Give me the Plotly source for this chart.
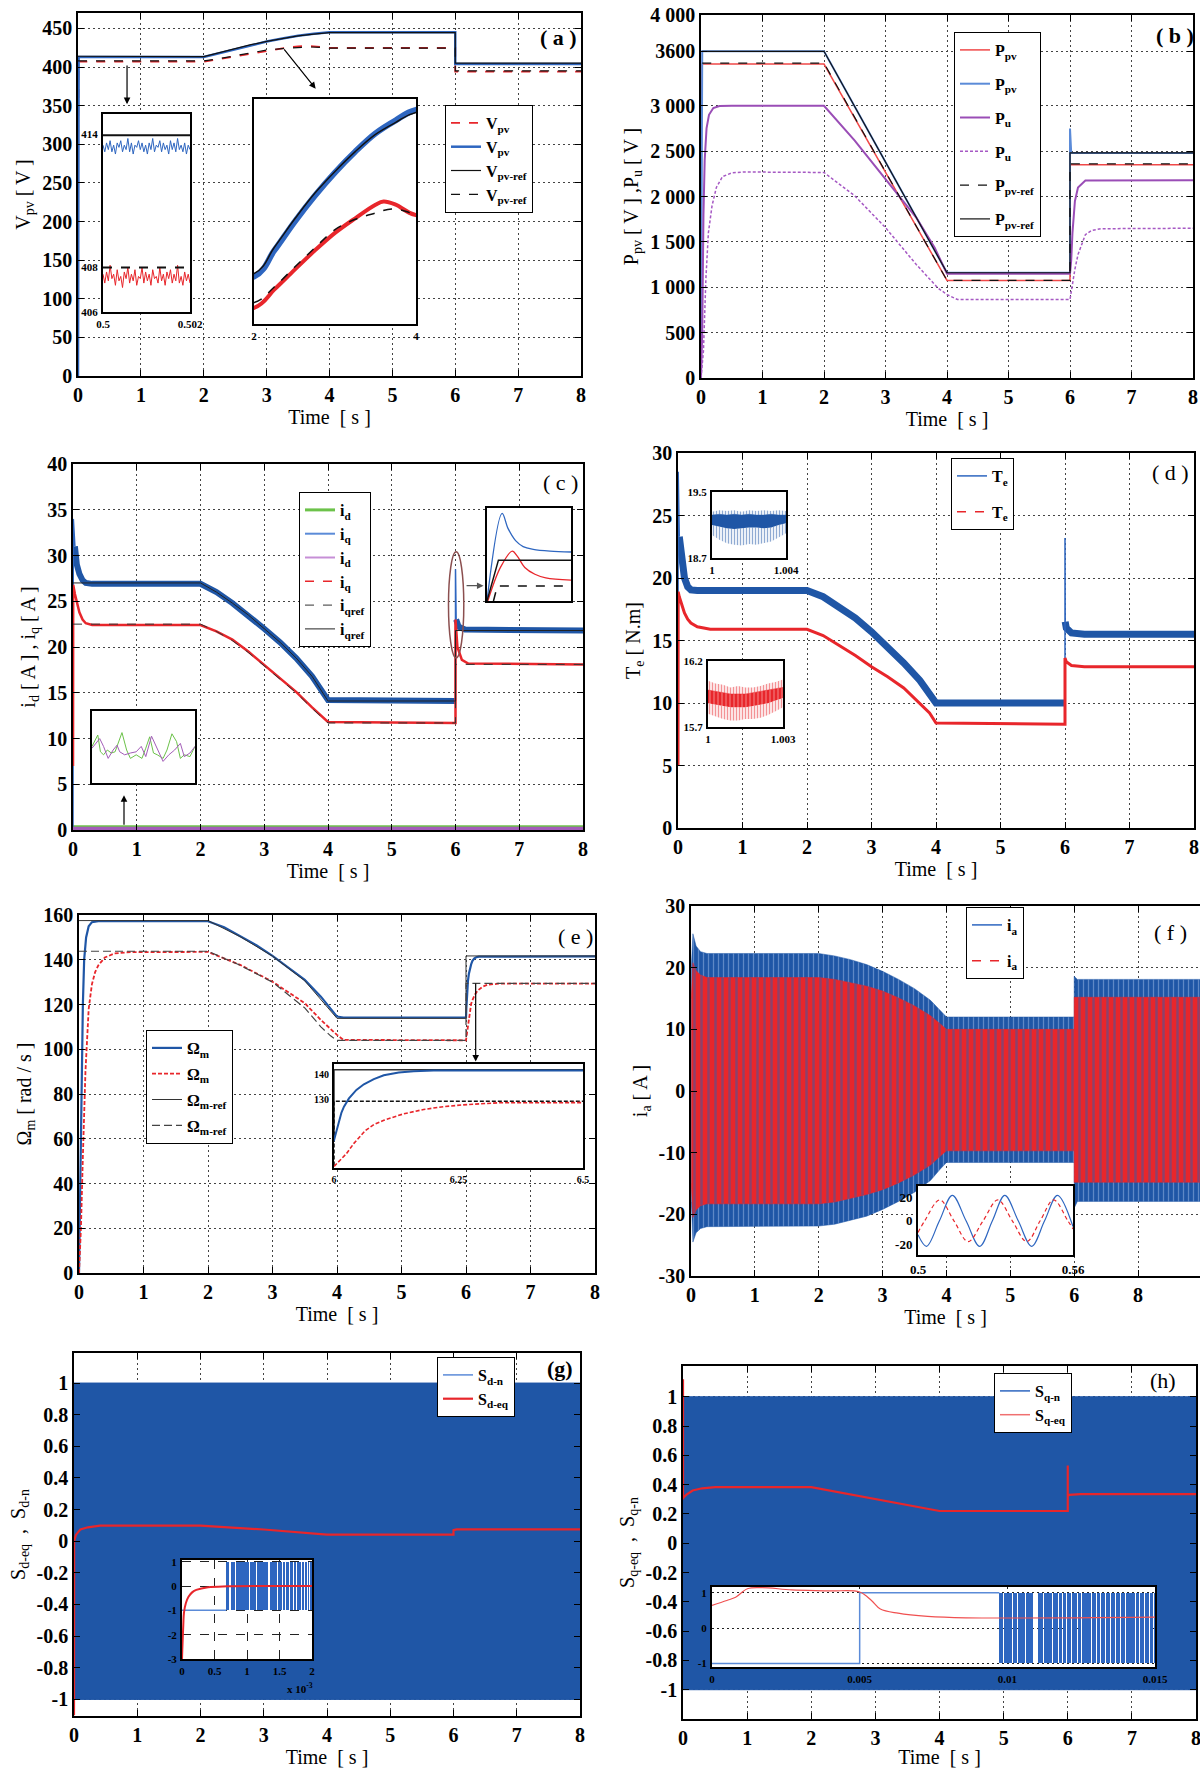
import plotly.graph_objects as go

W, H = 1200, 1768
SERIF = "Liberation Serif"
BLUE = "#1f56a6"
BLUE2 = "#2e66c0"
LBLUE = "#5b8bd8"
RED = "#e8262b"
PURPLE = "#9a4db6"
GREEN = "#6cc24a"
BLACK = "#111111"

# ======================= DATA =======================
# (a) PV voltage
A_T_BLUE = [0, 0.01, 2.0, 2.25, 2.5, 2.75, 3.0, 3.25, 3.5, 3.75, 4.0, 6.0, 6.0, 8.0]
A_VPV_BLUE = [0, 413, 413, 418, 423.5, 428.5, 433, 437, 440.5, 443, 445, 445, 404, 404]
A_VREF_SOLID = [414, 414, 413.6, 418.6, 424, 429, 433.2, 437, 440.3, 442.6, 444.5, 444.5, 405, 405]
A_T_RED = [0, 0.01, 2.0, 2.25, 2.5, 2.75, 3.0, 3.25, 3.5, 3.6, 3.75, 4.0, 6.0, 6.0, 8.0]
A_VPV_RED = [290, 407, 407, 410.5, 414.3, 418, 421.4, 424.2, 426.8, 427.4, 426.8, 424.8, 424.8, 394, 394]
A_T_REFD = [0, 2.0, 2.25, 2.5, 2.75, 3.0, 3.25, 3.5, 3.7, 3.9, 4.0, 6.0, 6.0, 8.0]
A_VREF_DASH = [408, 408, 411, 414.8, 418.5, 422, 424, 425.2, 426, 425.4, 424.5, 424.5, 395, 395]
A1_T = [0.5, 0.502]
A1_REF_HI = [413.95, 413.95]
A1_REF_LO = [408.0, 408.0]
A1_BLUE = [413.5, 413.2, 413.6, 413.3, 413.7, 413.2, 413.5, 413.1, 413.6, 413.4, 413.7, 413.2, 413.5,
           413.3, 413.8, 413.2, 413.6, 413.1, 413.5, 413.4, 413.7, 413.3, 413.6, 413.2, 413.5, 413.1,
           413.6, 413.3, 413.8, 413.2, 413.5, 413.4, 413.7, 413.2, 413.6, 413.3, 413.5, 413.1, 413.7,
           413.3, 413.6, 413.2, 413.8, 413.3, 413.5, 413.2, 413.6, 413.1, 413.5, 413.3]
A1_RED = [407.7, 407.3, 407.8, 407.4, 408.1, 407.5, 407.7, 407.2, 407.9, 407.4, 407.6, 407.1, 407.8,
          407.5, 408.0, 407.3, 407.7, 407.4, 407.9, 407.2, 407.6, 407.5, 408.0, 407.3, 407.8, 407.4,
          407.7, 407.2, 407.9, 407.5, 407.6, 407.3, 408.0, 407.4, 407.7, 407.2, 407.8, 407.5, 407.9,
          407.3, 407.7, 407.4, 408.1, 407.3, 407.6, 407.2, 407.8, 407.4, 407.7, 407.3]

# (b) powers
B_T_BLUE = [0, 0.01, 0.02, 2.0, 4.0, 6.0, 6.0, 6.02, 8.0]
B_PPV_BLUE = [0, 2700, 3600, 3600, 1160, 1160, 2750, 2480, 2480]
B_T_REF = [0.02, 2.0, 4.0, 6.0, 6.0, 8.0]
B_PREF_SOLID = [3600, 3600, 1160, 1160, 2480, 2480]
B_PREF_DASH = [3470, 3470, 1075, 1075, 2360, 2360]
B_T_RED = [0, 0.01, 0.02, 2.0, 4.0, 6.0, 6.0, 8.0]
B_PPV_RED = [2750, 3100, 3460, 3460, 1075, 1075, 2350, 2350]
B_T_PU = [0, 0.02, 0.04, 0.06, 0.09, 0.13, 0.2, 0.3, 0.5, 2.0, 2.5, 3.0, 3.5, 3.8, 4.0, 6.0,
          6.02, 6.04, 6.08, 6.13, 6.25, 8.0]
B_PU_SOLID = [0, 500, 1800, 2400, 2750, 2900, 2975, 2998, 3000, 3000, 2616, 2192, 1768, 1435, 1148, 1148,
              1300, 1600, 1950, 2100, 2175, 2180]
B_T_PU2 = [0, 0.04, 0.08, 0.12, 0.18, 0.25, 0.35, 0.5, 0.7, 2.0, 2.5, 3.0, 3.5, 3.85, 4.0, 4.17, 6.0,
           6.03, 6.08, 6.13, 6.2, 6.25, 6.35, 6.5, 8.0]
B_PU_DASH = [0, 300, 1100, 1600, 1900, 2100, 2220, 2260, 2270, 2265, 2007, 1657, 1251, 993, 919, 865, 865,
             1000, 1200, 1360, 1500, 1580, 1625, 1645, 1650]

# (c) currents  (thick band + thin start-up / step spikes)
C_T_BLUE = [0.03, 0.06, 0.1, 0.15, 0.2, 0.3, 2.0, 2.25, 2.5, 2.75, 3.0, 3.25, 3.5, 3.75, 4.0, 6.0,
            None, 6.01, 6.05, 6.15, 8.0]
C_IQ_BLUE = [31, 29, 28, 27.3, 27.0, 26.9, 26.9, 26.0, 24.8, 23.5, 22.0, 20.5, 18.8, 16.8, 14.2, 14.1,
             None, 23, 22.2, 21.9, 21.8]
C_T_BLUE_SPIKE = [0, 0.005, 0.03, None, 6.0, 6.0, 6.01]
C_IQ_BLUE_SPIKE = [0, 34, 31, None, 14.1, 28.5, 23]
C_T_RED = [0, 0.003, 0.03, 0.06, 0.1, 0.15, 0.2, 0.3, 2.0, 2.25, 2.5, 2.75, 3.0, 3.25, 3.5, 3.75, 4.0,
           6.0, 6.0, 6.03, 6.1, 6.2, 8.0]
C_IQ_RED = [7, 26.8, 25.8, 24.8, 23.8, 23.0, 22.6, 22.4, 22.4, 21.7, 20.8, 19.5, 18.0, 16.6, 15.1, 13.4,
            11.8, 11.7, 23.0, 20.0, 18.6, 18.2, 18.1]
C_T_REF = [0, 2.0, 2.25, 2.5, 2.75, 3.0, 3.25, 3.5, 3.75, 4.0, 6.0, 6.0, 8.0]
C_IQREF_SOLID = [27.0, 27.0, 26.0, 24.8, 23.5, 22.0, 20.5, 18.8, 16.8, 14.1, 14.1, 21.8, 21.8]
C_IQREF_DASH = [22.5, 22.5, 21.7, 20.7, 19.4, 17.9, 16.5, 15.0, 13.3, 11.7, 11.7, 18.1, 18.1]
C_T_ID = [0, 8]
C_ID_GREEN = [0.35, 0.35]
C_ID_PURPLE = [0.13, 0.13]
# inset c1 (zoom of the 6 s step)
C1_T_BLUE = [6.0, 6.018, 6.025, 6.034, 6.043, 6.055, 6.075, 6.1]
C1_BLUE = [16.0, 35.3, 32.0, 29.3, 28.0, 27.4, 27.0, 26.8]
C1_T_RED = [6.001, 6.016, 6.030, 6.036, 6.045, 6.057, 6.070, 6.1]
C1_RED = [16.0, 23.4, 27.0, 25.9, 23.4, 21.9, 21.1, 20.6]
C1_T_REFS = [6.0, 6.0136, 6.1]
C1_REF_SOLID = [16.0, 25.0, 25.0]
C1_T_REFD = [6.0077, 6.0123, 6.1]
C1_REF_DASH = [16.0, 19.3, 19.3]
# inset c2 (i_d ripple)
C2_T_G = [0.750, 0.7556, 0.7582, 0.7612, 0.7649, 0.7687, 0.7724, 0.7791, 0.7836, 0.7873, 0.7929, 0.7985,
          0.8022, 0.8060, 0.8097, 0.8134, 0.8190, 0.8228, 0.8276, 0.8321, 0.8358, 0.8396, 0.8451, 0.8500]
C2_ID_G = [0.21, 0.40, 0.12, 0.07, 0.15, 0.10, 0.12, 0.44, 0.15, 0.01, 0.07, 0.01, 0.18, 0.37, 0.10,
           0.07, 0.01, 0.15, 0.42, 0.29, 0.01, 0.07, 0.04, 0.21]
C2_T_P = [0.750, 0.7537, 0.7575, 0.7612, 0.7657, 0.7705, 0.7743, 0.7769, 0.7817, 0.7873, 0.7929, 0.7978,
          0.8022, 0.8078, 0.8134, 0.8190, 0.8246, 0.8302, 0.8358, 0.8396, 0.8451, 0.8500]
C2_ID_P = [0.18, 0.26, 0.34, 0.21, 0.01, 0.15, 0.23, 0.12, 0.07, 0.10, 0.12, 0.21, 0.04, 0.38, 0.18,
           -0.04, 0.07, 0.15, 0.26, 0.04, 0.10, 0.21]

# (d) torque (thick band + thin spikes)
D_T_BLUE = [0.02, 0.05, 0.1, 0.15, 0.2, 0.3, 2.0, 2.25, 2.5, 2.75, 3.0, 3.25, 3.5, 3.75, 4.0, 6.0,
            None, 6.003, 6.02, 6.1, 6.3, 8.0]
D_TE_BLUE = [23.3, 21.8, 20.0, 19.3, 19.05, 19.0, 19.0, 18.5, 17.7, 16.8, 15.7, 14.5, 13.2, 11.8, 10.0,
             10.0, None, 16.5, 16.0, 15.6, 15.5, 15.5]
D_T_BLUE_SPIKE = [0, 0.003, 0.02, None, 6.0, 6.0, 6.003]
D_TE_BLUE_SPIKE = [10, 28.5, 23.3, None, 10.0, 23.2, 16.5]
D_T_RED = [0, 0.003, 0.02, 0.06, 0.1, 0.15, 0.2, 0.3, 0.5, 2.0, 2.25, 2.5, 2.75, 3.0, 3.25, 3.5, 3.75,
           3.9, 4.0, 6.0, 6.0, 6.02, 6.1, 6.3, 8.0]
D_TE_RED = [5, 18.9, 18.5, 17.8, 17.2, 16.7, 16.4, 16.1, 15.9, 15.9, 15.4, 14.6, 13.8, 12.9, 12.1, 11.2,
            10.0, 9.2, 8.4, 8.3, 13.6, 13.3, 13.0, 12.9, 12.9]
D1_T = [1.0, 1.0004, 1.0008, 1.0012, 1.0016, 1.0020, 1.0024, 1.0028, 1.0032, 1.0036, 1.0040]
D1_SPIKE_HI = [19.26, 19.28, 19.27, 19.28, 19.26, 19.28, 19.27, 19.28, 19.27, 19.28, 19.27]
D1_CORE_HI = [19.22, 19.23, 19.22, 19.23, 19.22, 19.23, 19.22, 19.22, 19.23, 19.22, 19.22]
D1_CORE_LO = [19.10, 19.08, 19.06, 19.05, 19.06, 19.07, 19.07, 19.06, 19.07, 19.10, 19.12]
D1_SPIKE_LO = [18.98, 18.92, 18.88, 18.86, 18.85, 18.87, 18.86, 18.88, 18.90, 18.95, 19.00]
D2_T = [1.0, 1.0003, 1.0006, 1.0009, 1.0012, 1.0015, 1.0018, 1.0021, 1.0024, 1.0027, 1.0030]
D2_SPIKE_HI = [16.05, 16.03, 16.02, 16.00, 16.01, 16.00, 16.00, 16.01, 16.03, 16.04, 16.06]
D2_CORE_HI = [15.98, 15.97, 15.96, 15.95, 15.95, 15.95, 15.96, 15.97, 15.98, 15.99, 16.00]
D2_CORE_LO = [15.88, 15.87, 15.86, 15.85, 15.85, 15.85, 15.86, 15.87, 15.88, 15.90, 15.92]
D2_SPIKE_LO = [15.80, 15.78, 15.76, 15.75, 15.75, 15.76, 15.76, 15.77, 15.79, 15.82, 15.85]

# (e) speed
E_T_BLUE = [0, 0.02, 0.04, 0.06, 0.08, 0.11, 0.15, 0.2, 0.3, 2.0, 2.25, 2.5, 2.75, 3.0, 3.25, 3.5,
            3.75, 4.0, 4.1, 6.0, 6.005, 6.01, 6.015, 6.02, 6.03, 6.045, 6.06, 6.08, 6.1, 6.13, 6.16,
            6.2, 8.0]
E_W_BLUE = [0, 40, 85, 120, 140, 150, 155, 156.8, 157.2, 157.2, 154.5, 150.5, 146.5, 141.7, 136.5, 131,
            123.5, 114.6, 114.2, 114.2, 118, 121.5, 125, 127.3, 130.5, 133.8, 136, 138, 139.5, 140.6,
            141.1, 141.4, 141.5]
E_T_REFS = [0, 2.0, 2.5, 3.0, 3.5, 3.75, 4.0, 6.0, 6.0, 8.0]
E_WREF_SOLID = [157.5, 157.5, 150.3, 141.6, 130.6, 122.3, 113.8, 113.8, 141.7, 141.7]
E_T_RED = [0, 0.03, 0.06, 0.1, 0.15, 0.2, 0.25, 0.3, 0.4, 0.55, 0.8, 2.0, 2.5, 3.0, 3.5, 3.75, 4.0,
           4.1, 6.0, 6.01, 6.025, 6.04, 6.063, 6.08, 6.1, 6.14, 6.18, 6.22, 6.26, 6.33, 6.4, 6.5, 8.0]
E_W_RED = [0, 20, 52, 90, 118, 129, 134.5, 137.5, 141, 142.8, 143.4, 143.5, 137.7, 130.2, 120.6, 113.1,
           106.4, 104.2, 104, 106, 109, 113, 118, 120.3, 122, 124.5, 126.2, 127.3, 128.0, 128.8, 129.1,
           129.3, 129.3]
E_T_REFD = [0, 2.0, 2.5, 3.0, 3.5, 3.75, 3.9, 4.0, 6.0, 6.0, 8.0]
E_WREF_DASH = [143.8, 143.8, 137.5, 130, 118.5, 110, 106, 104, 104, 129.4, 129.4]

# (f) phase current: envelopes of the fast oscillation
F_T = [0.005, 0.03, 0.08, 0.15, 0.25, 2.0, 2.25, 2.5, 2.75, 3.0, 3.25, 3.5, 3.75, 3.9, 4.0, 6.0, 6.0,
       6.05, 8.0]
F_BLUE_UP = [20, 25.5, 23.5, 22.6, 22.3, 22.3, 21.9, 21.3, 20.5, 19.4, 18.1, 16.6, 14.7, 13.0, 12.0,
             12.0, 18.6, 18.1, 18.1]
F_BLUE_LO = [-18, -24.5, -23, -22.3, -22.0, -21.9, -21.6, -21.0, -20.3, -19.2, -17.9, -16.4, -14.5,
             -12.7, -11.6, -11.6, -19.0, -17.9, -17.9]
F_RED_UP = [15, 20.8, 19.5, 18.8, 18.4, 18.4, 18.1, 17.6, 17.0, 16.2, 15.1, 13.8, 12.2, 10.9, 10.0,
            10.0, 15.2, 15.2, 15.2]
F_RED_LO = [-15, -20.5, -19.3, -18.6, -18.3, -18.3, -18.0, -17.4, -16.8, -16.0, -14.9, -13.6, -12.0,
            -10.6, -9.7, -9.7, -14.8, -14.8, -14.8]
F1_T_BLUE = [0.5, 0.5033, 0.5083, 0.5133, 0.5186, 0.5239, 0.5288, 0.5336, 0.5388, 0.5440, 0.5490,
             0.5540, 0.56]
F1_BLUE = [-12, -22, 0, 22, 0, -22, 0, 22, 0, -22, 0, 22, -5]
F1_T_RED = [0.5, 0.5026, 0.5084, 0.5139, 0.5194, 0.5252, 0.5309, 0.5365, 0.5421, 0.5473, 0.5525,
            0.5580, 0.56]
F1_RED = [-10, 0, 18, 0, -18, 0, 18, 0, -18, 0, 18, 0, -7]

# (g) S_d
G_T_SW = [0, 8]
G_SW_UP = [1, 1]
G_SW_LO = [-1, -1]
G_T_EQ = [0, 0.002, 0.03, 0.1, 0.22, 0.41, 2.0, 3.0, 4.0, 6.0, 6.0, 6.05, 8.0]
G_S_EQ = [-1.1, 0.0, 0.04, 0.074, 0.088, 0.099, 0.099, 0.074, 0.042, 0.042, 0.07, 0.075, 0.075]
G1_T_EQ = [0, 0.005, 0.02, 0.03, 0.06, 0.1, 0.16, 0.22, 0.4, 0.7, 2.0]
G1_S_EQ = [-3.0, -2.6, -1.6, -1.1, -0.7, -0.44, -0.25, -0.16, -0.05, -0.01, 0.0]
G1_T_LOW = [0, 0.68]
G1_S_LOW = [-1, -1]
G1_BLK_START = [0.68, 0.75, 0.83, 1.05, 1.16, 1.35, 1.48, 1.56, 1.60, 1.66, 1.73, 1.77, 1.85, 1.90,
                1.94, 1.97]
G1_BLK_END = [0.73, 0.81, 1.03, 1.14, 1.33, 1.46, 1.54, 1.58, 1.64, 1.71, 1.75, 1.83, 1.88, 1.92,
              1.95, 2.00]

# (h) S_q
H_T_EQ = [0, 0.0, 0.003, 0.05, 0.15, 0.3, 0.5, 2.0, 3.0, 4.0, 6.0, 6.0, 6.0, 6.02, 6.2, 8.0]
H_S_EQ = [1.12, 0.3, 0.31, 0.33, 0.36, 0.375, 0.383, 0.383, 0.30, 0.22, 0.22, 0.53, 0.32, 0.33, 0.335,
          0.335]
H1_T_EQ = [0, 0.0005, 0.0008, 0.0012, 0.0017, 0.0027, 0.004, 0.005, 0.0054, 0.0057, 0.0063, 0.0073,
           0.0086, 0.015]
H1_S_EQ = [0.64, 0.78, 0.87, 1.11, 1.14, 1.08, 1.05, 1.02, 0.78, 0.54, 0.42, 0.33, 0.29, 0.31]
H1_T_SW = [0, 0.005, 0.005, 0.00973]
H1_S_SW = [-1, -1, 1, 1]
H1_BLK_START = [0.00973, 0.00989, 0.01018, 0.01037, 0.01063, 0.01104, 0.01124, 0.01139, 0.01154,
                0.01174, 0.01187, 0.01203, 0.01219, 0.01239, 0.01252, 0.01268, 0.01285, 0.01304,
                0.01317, 0.01333, 0.01350, 0.01369, 0.01385, 0.01402, 0.01417, 0.01434, 0.01450,
                0.01467, 0.01484, 0.01497]
H1_BLK_END = [0.00986, 0.01015, 0.01034, 0.01060, 0.01086, 0.01121, 0.01136, 0.01151, 0.01171,
              0.01184, 0.01200, 0.01216, 0.01236, 0.01249, 0.01265, 0.01282, 0.01301, 0.01314,
              0.01330, 0.01347, 0.01366, 0.01382, 0.01399, 0.01414, 0.01431, 0.01447, 0.01464,
              0.01481, 0.01494, 0.01500]

# ======================= FIGURE =======================
fig = go.Figure()
LAYOUT = {}
TICKFONT = dict(family=SERIF, size=20, color="black", weight="bold")
TITLEFONT = dict(family=SERIF, size=20, color="black")


def sid(n):
    return "" if n == 1 else str(n)


def add_line(n, x, y, color, width=1.5, dash="solid", shape="linear", name=None, legend=None,
             fill=None, fillcolor=None, fillpattern=None):
    kw = dict(x=x, y=y, mode="lines", line=dict(color=color, width=width, dash=dash, shape=shape),
              xaxis="x" + sid(n), yaxis="y" + sid(n), hoverinfo="skip",
              showlegend=name is not None, connectgaps=False)
    if fill:
        kw["fill"] = fill
    if fillcolor:
        kw["fillcolor"] = fillcolor
    if fillpattern:
        kw["fillpattern"] = fillpattern
    if name is not None:
        kw["name"] = name
        kw["legend"] = legend
        kw["legendgroup"] = "%s-%d" % (legend, len(fig.data))
    fig.add_trace(go.Scatter(**kw))


def legend_only(n, name, legend, color, width=1.5, dash="solid"):
    fig.add_trace(go.Scatter(x=[None], y=[None], mode="lines", name=name, legend=legend,
                             legendgroup="%s-%d" % (legend, len(fig.data)),
                             line=dict(color=color, width=width, dash=dash),
                             xaxis="x" + sid(n), yaxis="y" + sid(n), hoverinfo="skip"))


def fmt(v):
    return "%g" % v


def main_axes(n, box, xr, yr, yvals, ytitle, ytext=None, xvals=None, xtext=None, ymirror="ticks",
              xstandoff=3):
    l, r, t, b = box
    if xvals is None:
        xvals = list(range(9))
    if xtext is None:
        xtext = [fmt(v) for v in xvals]
    if ytext is None:
        ytext = [fmt(v) for v in yvals]
    common = dict(showline=True, linecolor="black", linewidth=1.5, ticks="inside", ticklen=6,
                  tickcolor="black", tickwidth=1, showgrid=True, gridcolor="#444",
                  griddash="2px,3px", gridwidth=1, zeroline=False, tickfont=TICKFONT,
                  tickmode="array", automargin=False, fixedrange=True, ticklabeloverflow="allow")
    LAYOUT["xaxis" + sid(n)] = dict(common, domain=[l / W, r / W], range=xr, anchor="y" + sid(n),
                                     mirror="ticks", tickvals=xvals, ticktext=xtext,
                                     title=dict(text="Time  [ s ]", font=TITLEFONT, standoff=xstandoff))
    LAYOUT["yaxis" + sid(n)] = dict(common, domain=[1 - b / H, 1 - t / H], range=yr,
                                     anchor="x" + sid(n), mirror=ymirror, tickvals=yvals,
                                     ticktext=ytext,
                                     title=dict(text=ytitle, font=TITLEFONT, standoff=6))


def inset_axes(n, box, xr, yr, xvals=(), yvals=(), xtext=None, ytext=None, grid=False, fs=11,
               griddash="dash"):
    l, r, t, b = box
    common = dict(showline=True, linecolor="black", linewidth=2, mirror=True, ticks="",
                  zeroline=False, showgrid=grid, gridcolor="#222", griddash=griddash, gridwidth=1,
                  tickfont=dict(family=SERIF, size=fs, color="black", weight="bold"),
                  tickmode="array", automargin=False, fixedrange=True, ticklabelstandoff=1,
                  ticklabeloverflow="allow")
    LAYOUT["xaxis" + sid(n)] = dict(common, domain=[l / W, r / W], range=xr, anchor="y" + sid(n),
                                     tickvals=list(xvals),
                                     ticktext=xtext if xtext is not None else [fmt(v) for v in xvals])
    LAYOUT["yaxis" + sid(n)] = dict(common, domain=[1 - b / H, 1 - t / H], range=yr,
                                     anchor="x" + sid(n), tickvals=list(yvals),
                                     ticktext=ytext if ytext is not None else [fmt(v) for v in yvals])


def legend_box(px_l, py_t, gap):
    return dict(x=px_l / W, y=1 - py_t / H, xanchor="left", yanchor="top", bgcolor="white",
                bordercolor="black", borderwidth=1, tracegroupgap=gap, traceorder="grouped",
                font=dict(family=SERIF, size=16, color="black", weight="bold"), itemwidth=30)


# ---------- main axes ----------
main_axes(1, (78, 581, 13, 376), [0, 8], [0, 470], list(range(0, 451, 50)), "V<sub>pv</sub> [ V ]")
main_axes(2, (701, 1193, 15, 378), [0, 8], [0, 4000], [0, 500, 1000, 1500, 2000, 2500, 3000, 3600, 4000],
          "P<sub>pv</sub> [ V ] ,P<sub>u</sub> [ V ]",
          ytext=["0", "500", "1 000", "1 500", "2 000", "2 500", "3 000", "3600", "4 000"])
main_axes(3, (73, 583, 464, 830), [0, 8], [0, 40], list(range(0, 41, 5)),
          "i<sub>d</sub> [ A ] , i<sub>q</sub> [ A ]")
main_axes(4, (678, 1194, 453, 828), [0, 8], [0, 30], list(range(0, 31, 5)), "T<sub>e</sub> [ N.m]")
main_axes(5, (79, 595, 915, 1273), [0, 8], [0, 160], list(range(0, 161, 20)),
          "Ω<sub>m</sub> [ rad / s ]")
main_axes(6, (691, 1200, 906, 1276), [0, 7.97], [-30, 30], list(range(-30, 31, 10)),
          "i<sub>a</sub> [ A ]", xvals=list(range(8)),
          xtext=["0", "1", "2", "3", "4", "5", "6", "8"], ymirror=False)
S_TICKS = [-1, -0.8, -0.6, -0.4, -0.2, 0, 0.2, 0.4, 0.6, 0.8, 1]
main_axes(7, (74, 580, 1353, 1716), [0, 8], [-1.105, 1.19], S_TICKS,
          "S<sub>d-eq</sub>  ,  S<sub>d-n</sub>")
main_axes(8, (683, 1196, 1366, 1719), [0, 8], [-1.2, 1.21], S_TICKS,
          "S<sub>q-eq</sub>  ,  S<sub>q-n</sub>", xstandoff=0)

# ---------- inset axes ----------
inset_axes(9, (103, 190, 114, 312), [0.5, 0.502], [406, 414.9], xvals=[0.5, 0.502],
           yvals=[406, 408, 414])
inset_axes(10, (254, 416, 99, 324), [2, 4], [403.9, 447.1], xvals=[2, 4])
inset_axes(11, (487, 571, 508, 601), [6.0, 6.1], [16, 36.5])
inset_axes(12, (92, 195, 711, 783), [0.75, 0.85], [-0.4, 0.8])
inset_axes(13, (712, 786, 492, 558), [1.0, 1.004], [18.7, 19.5], xvals=[1.0, 1.004], yvals=[18.7, 19.5],
           xtext=["1", "1.004"])
inset_axes(14, (708, 783, 661, 727), [1.0, 1.003], [15.7, 16.2], xvals=[1.0, 1.003], yvals=[15.7, 16.2],
           xtext=["1", "1.003"])
inset_axes(15, (334, 583, 1064, 1168), [6.0, 6.5], [103.4, 143.9], xvals=[6, 6.25, 6.5],
           yvals=[130, 140], fs=10)
inset_axes(16, (918, 1073, 1186, 1255), [0.5, 0.56], [-29.5, 30], xvals=[0.5, 0.56],
           yvals=[-20, 0, 20], fs=13)
inset_axes(17, (182, 312, 1560, 1659), [0, 2], [-3.0, 1.07], xvals=[0, 0.5, 1, 1.5, 2],
           yvals=[-3, -2, -1, 0, 1], grid=True, fs=11)
inset_axes(18, (712, 1155, 1587, 1667), [0, 0.015], [-1.1, 1.16], xvals=[0, 0.005, 0.01, 0.015],
           yvals=[-1, 0, 1], grid=True, fs=11, griddash="2px,3px")

# ---------- (a) ----------
add_line(1, A_T_RED, A_VPV_RED, RED, 1.8, "dash", name="V<sub>pv</sub>", legend="legend")
add_line(1, A_T_BLUE, A_VPV_BLUE, BLUE2, 2.5, name="V<sub>pv</sub>", legend="legend")
add_line(1, A_T_BLUE, A_VREF_SOLID, BLACK, 1.2, name="V<sub>pv-ref</sub>", legend="legend")
add_line(1, A_T_REFD, A_VREF_DASH, BLACK, 1.2, "dash", name="V<sub>pv-ref</sub>", legend="legend")
a1_t_b = [A1_T[0] + i * (A1_T[1] - A1_T[0]) / (len(A1_BLUE) - 1) for i in range(len(A1_BLUE))]
a1_t_r = [A1_T[0] + i * (A1_T[1] - A1_T[0]) / (len(A1_RED) - 1) for i in range(len(A1_RED))]
add_line(9, a1_t_b, A1_BLUE, BLUE2, 1.0)
add_line(9, A1_T, A1_REF_HI, BLACK, 2.0)
add_line(9, a1_t_r, A1_RED, RED, 1.0)
add_line(9, A1_T, A1_REF_LO, BLACK, 1.8, "dash")
add_line(10, A_T_BLUE, A_VPV_BLUE, BLUE2, 6, shape="spline")
add_line(10, A_T_BLUE, A_VREF_SOLID, BLACK, 1.5, shape="spline")
add_line(10, A_T_RED, A_VPV_RED, RED, 4, shape="spline")
add_line(10, A_T_REFD, A_VREF_DASH, BLACK, 1.5, "dash", shape="spline")

# ---------- (b) ----------
add_line(2, B_T_RED, B_PPV_RED, "#f04848", 1.5, name="P<sub>pv</sub>", legend="legend2")
add_line(2, B_T_BLUE, B_PPV_BLUE, LBLUE, 2.0, name="P<sub>pv</sub>", legend="legend2")
add_line(2, B_T_PU, B_PU_SOLID, PURPLE, 2.0, name="P<sub>u</sub>", legend="legend2")
add_line(2, B_T_PU2, B_PU_DASH, "#a659c4", 1.5, "3px,2px", name="P<sub>u</sub>", legend="legend2")
add_line(2, B_T_REF, B_PREF_DASH, BLACK, 1.2, "dash", name="P<sub>pv-ref</sub>", legend="legend2")
add_line(2, B_T_REF, B_PREF_SOLID, BLACK, 1.2, name="P<sub>pv-ref</sub>", legend="legend2")

# ---------- (c) ----------
add_line(3, C_T_ID, C_ID_GREEN, GREEN, 3, name="i<sub>d</sub>", legend="legend3")
add_line(3, C_T_BLUE, C_IQ_BLUE, BLUE, 6)
add_line(3, C_T_BLUE_SPIKE, C_IQ_BLUE_SPIKE, BLUE2, 1.5)
legend_only(3, "i<sub>q</sub>", "legend3", LBLUE, 2)
add_line(3, C_T_ID, C_ID_PURPLE, "#a35db8", 4)
legend_only(3, "i<sub>d</sub>", "legend3", "#c68fd6", 2)
add_line(3, C_T_RED, C_IQ_RED, RED, 2.5)
legend_only(3, "i<sub>q</sub>", "legend3", RED, 1.5, "dash")
add_line(3, C_T_REF, C_IQREF_DASH, "#333333", 1.0, "dash", name="i<sub>qref</sub>", legend="legend3")
add_line(3, C_T_REF, C_IQREF_SOLID, "#222222", 1.0, name="i<sub>qref</sub>", legend="legend3")
add_line(11, C1_T_BLUE, C1_BLUE, BLUE2, 1.3, shape="spline")
add_line(11, C1_T_RED, C1_RED, RED, 1.3, shape="spline")
add_line(11, C1_T_REFS, C1_REF_SOLID, BLACK, 1.5)
add_line(11, C1_T_REFD, C1_REF_DASH, BLACK, 1.5, "dash")
add_line(12, C2_T_G, C2_ID_G, GREEN, 1.0)
add_line(12, C2_T_P, C2_ID_P, "#a35db8", 1.0)

# ---------- (d) ----------
add_line(4, D_T_BLUE, D_TE_BLUE, BLUE, 7)
add_line(4, D_T_BLUE_SPIKE, D_TE_BLUE_SPIKE, BLUE2, 1.5)
legend_only(4, "T<sub>e</sub>", "legend4", BLUE2, 1.5)
add_line(4, D_T_RED, D_TE_RED, RED, 3)
legend_only(4, "T<sub>e</sub>", "legend4", RED, 1.5, "dash")
pat_b = dict(shape="|", fgcolor=BLUE, bgcolor="rgba(255,255,255,0)", size=3, solidity=0.45)
pat_r = dict(shape="|", fgcolor=RED, bgcolor="rgba(255,255,255,0)", size=3, solidity=0.5)
add_line(13, D1_T, D1_SPIKE_LO, "rgba(0,0,0,0)", 0)
add_line(13, D1_T, D1_CORE_LO, "rgba(0,0,0,0)", 0, fill="tonexty", fillcolor="rgba(0,0,0,0)",
         fillpattern=pat_b)
add_line(13, D1_T, D1_CORE_HI, BLUE, 0.5, fill="tonexty", fillcolor=BLUE)
add_line(13, D1_T, D1_SPIKE_HI, "rgba(0,0,0,0)", 0, fill="tonexty", fillcolor="rgba(0,0,0,0)",
         fillpattern=pat_b)
add_line(14, D2_T, D2_SPIKE_LO, "rgba(0,0,0,0)", 0)
add_line(14, D2_T, D2_CORE_LO, "rgba(0,0,0,0)", 0, fill="tonexty", fillcolor="rgba(0,0,0,0)",
         fillpattern=pat_r)
add_line(14, D2_T, D2_CORE_HI, RED, 0.5, fill="tonexty", fillcolor=RED,
         fillpattern=dict(shape="|", fgcolor="#f9b0b0", bgcolor=RED, size=4, solidity=0.35))
add_line(14, D2_T, D2_SPIKE_HI, "rgba(0,0,0,0)", 0, fill="tonexty", fillcolor="rgba(0,0,0,0)",
         fillpattern=pat_r)

# ---------- (e) ----------
add_line(5, E_T_BLUE, E_W_BLUE, BLUE, 2.2, name="Ω<sub>m</sub>", legend="legend5")
add_line(5, E_T_RED, E_W_RED, RED, 1.8, "4px,2px", name="Ω<sub>m</sub>", legend="legend5")
add_line(5, E_T_REFS, E_WREF_SOLID, "#333333", 1.0, name="Ω<sub>m-ref</sub>", legend="legend5")
add_line(5, E_T_REFD, E_WREF_DASH, "#444444", 1.2, "8px,4px", name="Ω<sub>m-ref</sub>", legend="legend5")
add_line(15, E_T_REFS, E_WREF_SOLID, "#333333", 1.5)
add_line(15, E_T_REFD, E_WREF_DASH, BLACK, 1.5, "4px,2px")
add_line(15, E_T_BLUE, E_W_BLUE, BLUE, 2.0)
add_line(15, E_T_RED, E_W_RED, RED, 1.6, "4px,2px")

# ---------- (f) ----------
add_line(6, F_T, F_BLUE_LO, BLUE, 0.5)
add_line(6, F_T, F_BLUE_UP, BLUE, 0.5, fill="tonexty", fillcolor=BLUE,
         fillpattern=dict(shape="|", bgcolor=BLUE, fgcolor="#9db9e6", size=5, solidity=0.25))
add_line(6, F_T, F_RED_LO, RED, 0.5)
add_line(6, F_T, F_RED_UP, RED, 0.5, fill="tonexty", fillcolor=RED,
         fillpattern=dict(shape="|", bgcolor=RED, fgcolor="#2f5cae", size=7, solidity=0.35))
legend_only(6, "i<sub>a</sub>", "legend6", BLUE2, 1.5)
legend_only(6, "i<sub>a</sub>", "legend6", RED, 1.5, "dash")
add_line(16, F1_T_BLUE, F1_BLUE, BLUE2, 1.2, shape="spline")
add_line(16, F1_T_RED, F1_RED, RED, 1.2, "4px,3px", shape="spline")

# ---------- (g) ----------
add_line(7, G_T_SW, G_SW_LO, BLUE, 1)
add_line(7, G_T_SW, G_SW_UP, BLUE, 1, fill="tonexty", fillcolor=BLUE)
legend_only(7, "S<sub>d-n</sub>", "legend7", LBLUE, 1.5)
add_line(7, G_T_EQ, G_S_EQ, RED, 2.2, name="S<sub>d-eq</sub>", legend="legend7")
fig.add_trace(go.Bar(x=G1_BLK_START, y=[2] * len(G1_BLK_START), base=-1, offset=0,
                     width=[e - s for s, e in zip(G1_BLK_START, G1_BLK_END)],
                     marker=dict(color=BLUE2, line=dict(width=0)), xaxis="x17", yaxis="y17",
                     showlegend=False, hoverinfo="skip"))
add_line(17, G1_T_LOW, G1_S_LOW, LBLUE, 1.5)
add_line(17, G1_T_EQ, G1_S_EQ, RED, 2.0, shape="spline")

# ---------- (h) ----------
add_line(8, G_T_SW, G_SW_LO, BLUE, 1)
add_line(8, G_T_SW, G_SW_UP, BLUE, 1, fill="tonexty", fillcolor=BLUE)
legend_only(8, "S<sub>q-n</sub>", "legend8", BLUE2, 1.5)
add_line(8, H_T_EQ, H_S_EQ, RED, 2.2)
legend_only(8, "S<sub>q-eq</sub>", "legend8", "#f07070", 1.5)
fig.add_trace(go.Bar(x=H1_BLK_START, y=[2] * len(H1_BLK_START), base=-1, offset=0,
                     width=[e - s for s, e in zip(H1_BLK_START, H1_BLK_END)],
                     marker=dict(color=BLUE2, line=dict(width=0)), xaxis="x18", yaxis="y18",
                     showlegend=False, hoverinfo="skip"))
add_line(18, H1_T_SW, H1_S_SW, LBLUE, 1.5)
add_line(18, H1_T_EQ, H1_S_EQ, "#f05050", 1.2, shape="spline")

# ---------- legends ----------
LAYOUT["legend"] = legend_box(445, 105, 0)
LAYOUT["legend2"] = legend_box(954, 32, 10)
LAYOUT["legend3"] = legend_box(299, 492, 0)
LAYOUT["legend4"] = legend_box(951, 458, 12)
LAYOUT["legend5"] = legend_box(146, 1030, 2)
LAYOUT["legend6"] = legend_box(966, 907, 12)
LAYOUT["legend7"] = legend_box(437, 1357, 0)
LAYOUT["legend8"] = legend_box(994, 1373, 0)

# ---------- annotations ----------
ann = []
PANEL_LABELS = [("( a )", 558, 37, True), ("( b )", 1175, 35, True), ("( c )", 560, 483, False),
                ("( d )", 1170, 473, False), ("( e )", 575, 936, False), ("( f )", 1170, 932, False),
                ("(g)", 560, 1368, True), ("(h)", 1163, 1380, False)]
for txt, px, py, bold in PANEL_LABELS:
    ann.append(dict(text=txt, x=px / W, y=1 - py / H, xref="paper", yref="paper", showarrow=False,
                    xanchor="center", yanchor="middle",
                    font=dict(family=SERIF, size=22, color="black", weight="bold" if bold else "normal")))


def arrow(n, x, y, ax, ay, color="black"):
    ann.append(dict(text="", x=x, y=y, ax=ax, ay=ay, xref="x" + sid(n), yref="y" + sid(n),
                    axref="x" + sid(n), ayref="y" + sid(n), showarrow=True, arrowhead=2,
                    arrowsize=1.1, arrowwidth=1.2, arrowcolor=color))


arrow(1, 0.78, 352, 0.78, 404)
arrow(1, 3.78, 372, 3.26, 425)
arrow(3, 0.8, 3.8, 0.8, 0.4)
arrow(3, 6.44, 26.7, 6.15, 26.7, "#555555")
arrow(5, 6.15, 94.5, 6.15, 130)
ann.append(dict(text="x 10<sup>-3</sup>", x=300 / W, y=1 - 1688 / H, xref="paper", yref="paper",
                showarrow=False, xanchor="center", yanchor="middle",
                font=dict(family=SERIF, size=11, color="black", weight="bold")))
LAYOUT["annotations"] = ann
LAYOUT["shapes"] = [dict(type="circle", xref="x3", yref="y3", x0=5.89, x1=6.13, y0=18.8, y1=30.4,
                         line=dict(color="#8b4f4f", width=1.5))]

fig.update_layout(width=W, height=H, margin=dict(l=0, r=0, t=0, b=0), paper_bgcolor="white",
                  plot_bgcolor="white", font=dict(family=SERIF, color="black"), bargap=0,
                  **LAYOUT)
fig.write_html("out.html")
